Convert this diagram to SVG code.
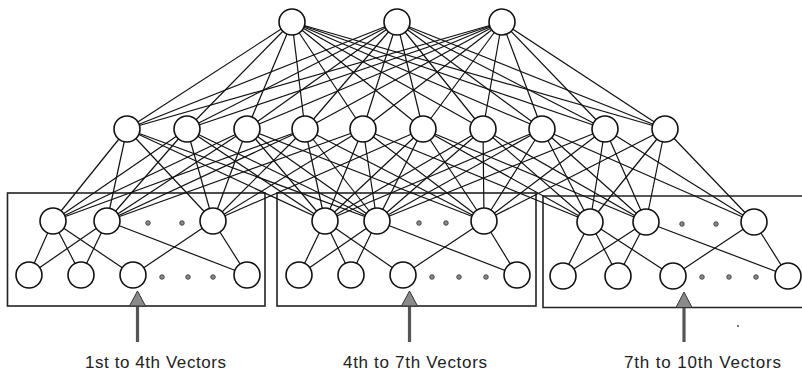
<svg xmlns="http://www.w3.org/2000/svg" width="802" height="376" viewBox="0 0 802 376">
<style>
.ln{stroke:#111;stroke-width:1.2;fill:none}
.nd{fill:#fff;stroke:#111;stroke-width:1.6}
.box{fill:none;stroke:#222;stroke-width:1.6}
.dot{fill:#888;stroke:#333;stroke-width:0.8}
.shaft{stroke:#555;stroke-width:3.2}
.head{fill:#8a8a8a;stroke:#333;stroke-width:1}
.lbl{font-family:"Liberation Sans",Arial,sans-serif;font-size:17px;fill:#222}
</style>
<rect width="802" height="376" fill="#fff"/>
<g id="boxes">
<rect class="box" x="7.5" y="193" width="257.5" height="113"/>
<rect class="box" x="277" y="193" width="259" height="113"/>
<path class="box" d="M805,196 H543 V307.5 H805"/>
</g>
<g id="connectors">
<g class="ln">
<line x1="292" y1="22" x2="127" y2="129"/><line x1="292" y1="22" x2="187" y2="129"/><line x1="292" y1="22" x2="247" y2="129"/><line x1="292" y1="22" x2="305" y2="129"/><line x1="292" y1="22" x2="363" y2="129"/><line x1="292" y1="22" x2="423" y2="129"/><line x1="292" y1="22" x2="483" y2="129"/><line x1="292" y1="22" x2="542" y2="129"/><line x1="292" y1="22" x2="605" y2="129"/><line x1="292" y1="22" x2="665" y2="129"/>
<line x1="397" y1="22" x2="127" y2="129"/><line x1="397" y1="22" x2="187" y2="129"/><line x1="397" y1="22" x2="247" y2="129"/><line x1="397" y1="22" x2="305" y2="129"/><line x1="397" y1="22" x2="363" y2="129"/><line x1="397" y1="22" x2="423" y2="129"/><line x1="397" y1="22" x2="483" y2="129"/><line x1="397" y1="22" x2="542" y2="129"/><line x1="397" y1="22" x2="605" y2="129"/><line x1="397" y1="22" x2="665" y2="129"/>
<line x1="502" y1="22" x2="127" y2="129"/><line x1="502" y1="22" x2="187" y2="129"/><line x1="502" y1="22" x2="247" y2="129"/><line x1="502" y1="22" x2="305" y2="129"/><line x1="502" y1="22" x2="363" y2="129"/><line x1="502" y1="22" x2="423" y2="129"/><line x1="502" y1="22" x2="483" y2="129"/><line x1="502" y1="22" x2="542" y2="129"/><line x1="502" y1="22" x2="605" y2="129"/><line x1="502" y1="22" x2="665" y2="129"/>
</g>
<g class="ln">
<line x1="53" y1="221" x2="127" y2="129"/><line x1="53" y1="221" x2="187" y2="129"/><line x1="53" y1="221" x2="247" y2="129"/><line x1="53" y1="221" x2="305" y2="129"/>
<line x1="107" y1="221" x2="127" y2="129"/><line x1="107" y1="221" x2="187" y2="129"/><line x1="107" y1="221" x2="247" y2="129"/><line x1="107" y1="221" x2="305" y2="129"/><line x1="107" y1="221" x2="363" y2="129"/>
<line x1="213" y1="221" x2="127" y2="129"/><line x1="213" y1="221" x2="187" y2="129"/><line x1="213" y1="221" x2="247" y2="129"/><line x1="213" y1="221" x2="305" y2="129"/><line x1="213" y1="221" x2="363" y2="129"/><line x1="213" y1="221" x2="423" y2="129"/>
<line x1="325" y1="221" x2="127" y2="129"/><line x1="325" y1="221" x2="187" y2="129"/><line x1="325" y1="221" x2="247" y2="129"/><line x1="325" y1="221" x2="305" y2="129"/><line x1="325" y1="221" x2="363" y2="129"/><line x1="325" y1="221" x2="423" y2="129"/><line x1="325" y1="221" x2="483" y2="129"/><line x1="325" y1="221" x2="542" y2="129"/>
<line x1="377" y1="221" x2="127" y2="129"/><line x1="377" y1="221" x2="187" y2="129"/><line x1="377" y1="221" x2="247" y2="129"/><line x1="377" y1="221" x2="305" y2="129"/><line x1="377" y1="221" x2="363" y2="129"/><line x1="377" y1="221" x2="423" y2="129"/><line x1="377" y1="221" x2="483" y2="129"/><line x1="377" y1="221" x2="542" y2="129"/><line x1="377" y1="221" x2="605" y2="129"/>
<line x1="484" y1="221" x2="247" y2="129"/><line x1="484" y1="221" x2="305" y2="129"/><line x1="484" y1="221" x2="363" y2="129"/><line x1="484" y1="221" x2="423" y2="129"/><line x1="484" y1="221" x2="483" y2="129"/><line x1="484" y1="221" x2="542" y2="129"/><line x1="484" y1="221" x2="605" y2="129"/><line x1="484" y1="221" x2="665" y2="129"/>
<line x1="590" y1="222" x2="363" y2="129"/><line x1="590" y1="222" x2="423" y2="129"/><line x1="590" y1="222" x2="483" y2="129"/><line x1="590" y1="222" x2="542" y2="129"/><line x1="590" y1="222" x2="605" y2="129"/><line x1="590" y1="222" x2="665" y2="129"/>
<line x1="646" y1="222" x2="423" y2="129"/><line x1="646" y1="222" x2="483" y2="129"/><line x1="646" y1="222" x2="542" y2="129"/><line x1="646" y1="222" x2="605" y2="129"/><line x1="646" y1="222" x2="665" y2="129"/>
<line x1="754" y1="222" x2="542" y2="129"/><line x1="754" y1="222" x2="605" y2="129"/><line x1="754" y1="222" x2="665" y2="129"/>
</g>
<g class="ln">
<line x1="53" y1="221" x2="29" y2="275"/><line x1="53" y1="221" x2="81" y2="275"/><line x1="53" y1="221" x2="133" y2="275"/>
<line x1="107" y1="221" x2="29" y2="275"/><line x1="107" y1="221" x2="81" y2="275"/><line x1="107" y1="221" x2="247" y2="275"/>
<line x1="213" y1="221" x2="133" y2="275"/><line x1="213" y1="221" x2="247" y2="275"/>
<line x1="325" y1="221" x2="299" y2="275"/><line x1="325" y1="221" x2="351" y2="275"/><line x1="325" y1="221" x2="403" y2="275"/>
<line x1="377" y1="221" x2="299" y2="275"/><line x1="377" y1="221" x2="351" y2="275"/><line x1="377" y1="221" x2="517" y2="275"/>
<line x1="484" y1="221" x2="403" y2="275"/><line x1="484" y1="221" x2="517" y2="275"/>
<line x1="590" y1="222" x2="563" y2="276"/><line x1="590" y1="222" x2="618" y2="276"/><line x1="590" y1="222" x2="673" y2="276"/>
<line x1="646" y1="222" x2="563" y2="276"/><line x1="646" y1="222" x2="618" y2="276"/><line x1="646" y1="222" x2="788" y2="276"/>
<line x1="754" y1="222" x2="673" y2="276"/><line x1="754" y1="222" x2="788" y2="276"/>
</g>
</g>
<g id="output-layer">
<circle id="t1" class="nd" cx="292" cy="22" r="13"/>
<circle id="t2" class="nd" cx="397" cy="22" r="13"/>
<circle id="t3" class="nd" cx="502" cy="22" r="13"/>
</g>
<g id="middle-layer">
<circle id="m1" class="nd" cx="127" cy="129" r="13"/>
<circle id="m2" class="nd" cx="187" cy="129" r="13"/>
<circle id="m3" class="nd" cx="247" cy="129" r="13"/>
<circle id="m4" class="nd" cx="305" cy="129" r="13"/>
<circle id="m5" class="nd" cx="363" cy="129" r="13"/>
<circle id="m6" class="nd" cx="423" cy="129" r="13"/>
<circle id="m7" class="nd" cx="483" cy="129" r="13"/>
<circle id="m8" class="nd" cx="542" cy="129" r="13"/>
<circle id="m9" class="nd" cx="605" cy="129" r="13"/>
<circle id="m10" class="nd" cx="665" cy="129" r="13"/>
</g>
<g id="subnet1">
<circle class="nd" cx="53" cy="221" r="13"/><circle class="nd" cx="107" cy="221" r="13"/><circle class="nd" cx="213" cy="221" r="13"/>
<circle class="dot" cx="148" cy="223" r="2.3"/><circle class="dot" cx="182" cy="223" r="2.3"/>
<circle class="nd" cx="29" cy="275" r="13"/><circle class="nd" cx="81" cy="275" r="13"/><circle class="nd" cx="133" cy="275" r="13"/><circle class="nd" cx="247" cy="275" r="13"/>
<circle class="dot" cx="162" cy="277" r="2.3"/><circle class="dot" cx="188" cy="277" r="2.3"/><circle class="dot" cx="213" cy="277" r="2.3"/>
</g>
<g id="subnet2">
<circle class="nd" cx="325" cy="221" r="13"/><circle class="nd" cx="377" cy="221" r="13"/><circle class="nd" cx="484" cy="221" r="13"/>
<circle class="dot" cx="419" cy="223" r="2.3"/><circle class="dot" cx="446" cy="223" r="2.3"/>
<circle class="nd" cx="299" cy="275" r="13"/><circle class="nd" cx="351" cy="275" r="13"/><circle class="nd" cx="403" cy="275" r="13"/><circle class="nd" cx="517" cy="275" r="13"/>
<circle class="dot" cx="432" cy="277" r="2.3"/><circle class="dot" cx="459" cy="277" r="2.3"/><circle class="dot" cx="486" cy="277" r="2.3"/>
</g>
<g id="subnet3">
<circle class="nd" cx="590" cy="222" r="13"/><circle class="nd" cx="646" cy="222" r="13"/><circle class="nd" cx="754" cy="222" r="13"/>
<circle class="dot" cx="682" cy="224" r="2.3"/><circle class="dot" cx="716" cy="224" r="2.3"/>
<circle class="nd" cx="563" cy="276" r="13"/><circle class="nd" cx="618" cy="276" r="13"/><circle class="nd" cx="673" cy="276" r="13"/><circle class="nd" cx="788" cy="276" r="13"/>
<circle class="dot" cx="702" cy="277" r="2.3"/><circle class="dot" cx="729" cy="277" r="2.3"/><circle class="dot" cx="756" cy="277" r="2.3"/>
</g>
<g id="inputs">
<line class="shaft" x1="137.5" y1="300" x2="137.5" y2="342"/>
<polygon class="head" points="129.5,306 137.5,291 145.5,306"/>
<line class="shaft" x1="409.5" y1="300" x2="409.5" y2="342"/>
<polygon class="head" points="401.5,306 409.5,291 417.5,306"/>
<line class="shaft" x1="684" y1="302" x2="684" y2="342"/>
<polygon class="head" points="676,307.5 684,292 692,307.5"/>
<circle cx="738" cy="326" r="1" fill="#444"/>
</g>
<g id="labels">
<text class="lbl" x="85" y="368" textLength="141">1st to 4th Vectors</text>
<text class="lbl" x="343" y="368" textLength="144">4th to 7th Vectors</text>
<text class="lbl" x="624" y="368" textLength="157">7th to 10th Vectors</text>
</g>
</svg>
